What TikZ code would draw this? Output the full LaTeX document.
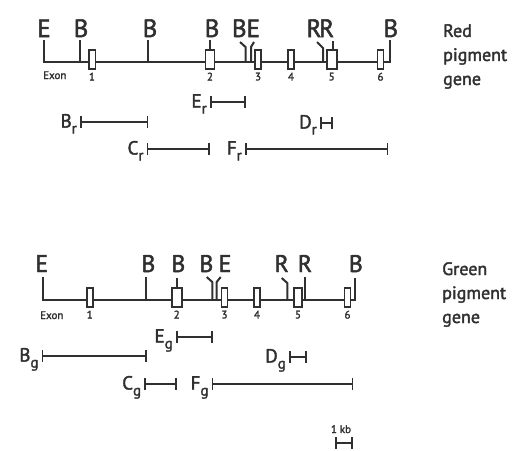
\documentclass[tikz,border=0pt]{standalone}
\usepackage{fontspec}
\setmainfont{PT Sans}[FakeBold=2]
\usetikzlibrary{arrows.meta,positioning}
\definecolor{tinte}{HTML}{303030}
\newcommand{\tief}[1]{\raisebox{-6pt}{\fontsize{15}{15}\selectfont #1}}
\tikzset{
  gen/.style={tinte,line width=2pt},
  exon/.style={draw=tinte,fill=white,line width=1.6pt,minimum width=6pt,minimum height=19pt,inner sep=0pt},
  site/.style={tinte,font=\fontsize{25}{25}\selectfont,inner sep=0pt,anchor=base},
  exnr/.style={tinte,font=\fontsize{11}{11}\selectfont,inner sep=0pt},
  sonde/.style={{Bar[width=12pt,line width=1.6pt]}-{Bar[width=12pt,line width=1.6pt]},tinte,line width=1.8pt},
  slab/.style={tinte,font=\fontsize{19}{19}\selectfont,inner sep=0pt,anchor=base east},
  gname/.style={tinte,font=\fontsize{18}{24}\selectfont,align=left,inner sep=0pt,anchor=north west},
}

\begin{document}
\begin{tikzpicture}[x=1pt,y=-1pt]
  \useasboundingbox (0,0) rectangle (529,450);
  % rotes Pigment-Gen
  \draw[gen] (44,40) -- (44,62) -- (390,62) -- (390,40);
  \foreach \x in {80,148} \draw[gen] (\x,40) -- (\x,62);
  \draw[gen] (210,40) -- (210,52);
  \draw[gen] (240,42) -- (245.5,47) -- (245.5,62);
  \draw[gen] (254,42) -- (251,47) -- (251,62);
  \draw[gen] (317,42) -- (323,48) -- (323,62);
  \draw[gen] (332.7,41) -- (332.7,52);
  \foreach \x/\w/\n in {92/6.6/1,210/9/2,258/6/3,291/6/4,331.7/10/5,380.5/6/6}{
    \node[exon,minimum width=\w pt] (exr\n) at (\x,59.5) {};
    \node[exnr,below=2.7pt of exr\n] (nr\n) {\n};
  }
  \node[exnr,anchor=base west] (exonr) at (43,79) {Exon};
  \foreach \x/\t [count=\i] in {44/E,81/B,150/B,212/B,239.3/B,253.3/E,314/R,326.7/R,390.8/B}
    \node[site] (sr\i) at (\x,37) {\t};
  \node[gname] (rot) at (443,24) {Red\\pigment\\gene};

  \coordinate (Er1) at (210,102); \coordinate (Er2) at (246,102);
  \coordinate (Br1) at (80,122);  \coordinate (Br2) at (148.3,122);
  \coordinate (Dr1) at (320,123);   \coordinate (Dr2) at (333,123);
  \coordinate (Cr1) at (146.7,149); \coordinate (Cr2) at (210,149);
  \coordinate (Fr1) at (245,149); \coordinate (Fr2) at (388.3,149);
  \foreach \s in {E,B,D,C,F}{
    \draw[sonde] (\s r1) -- (\s r2);
    \node[slab] (l\s r) at ([xshift=-3pt,yshift=-5.5pt]\s r1) {\s\tief{r}};
  }

  % gruenes Pigment-Gen
  \draw[gen] (42.7,277) -- (42.7,300) -- (355,300) -- (355,278);
  \draw[gen] (146,277) -- (146,300);
  \draw[gen] (176.7,278) -- (176.7,288);
  \draw[gen] (206.7,277) -- (212.3,282) -- (212.3,300);
  \draw[gen] (220.7,277) -- (216.7,282) -- (216.7,300);
  \draw[gen] (281.7,278) -- (287.3,283) -- (287.3,300);
  \draw[gen] (305,277) -- (305,300);
  \foreach \x/\w/\n in {89.7/6/1,176.7/10/2,224.5/6/3,257/6/4,298/8/5,347.5/6/6}{
    \node[exon,minimum width=\w pt] (exg\n) at (\x,297.5) {};
    \node[exnr,below=2.7pt of exg\n] (ng\n) {\n};
  }
  \node[exnr,anchor=base west] (exong) at (40,319) {Exon};
  \foreach \x/\t [count=\i] in {41.7/E,148.3/B,178.3/B,206.3/B,225/E,281.7/R,305/R,355.8/B}
    \node[site,font=\fontsize{24}{24}\selectfont] (sg\i) at (\x,272) {\t};
  \node[gname] (gruen) at (442,262) {Green\\pigment\\gene};

  \coordinate (Eg1) at (176,337); \coordinate (Eg2) at (212.7,337);
  \coordinate (Bg1) at (41.7,356);  \coordinate (Bg2) at (146.7,356);
  \coordinate (Dg1) at (289,357); \coordinate (Dg2) at (306.7,357);
  \coordinate (Cg1) at (144.3,384); \coordinate (Cg2) at (176.7,384);
  \coordinate (Fg1) at (211.7,384); \coordinate (Fg2) at (353.3,384);
  \foreach \s in {E,B,D,C,F}{
    \draw[sonde] (\s g1) -- (\s g2);
    \node[slab] (l\s g) at ([xshift=-3pt,yshift=-5.5pt]\s g1) {\s\tief{g}};
  }

  \coordinate (kb1) at (335,443); \coordinate (kb2) at (352.7,443);
  \draw[sonde] (kb1) -- (kb2);
  \node[exnr,anchor=base] (kb) at (341,433) {1 kb};
\end{tikzpicture}
\end{document}
